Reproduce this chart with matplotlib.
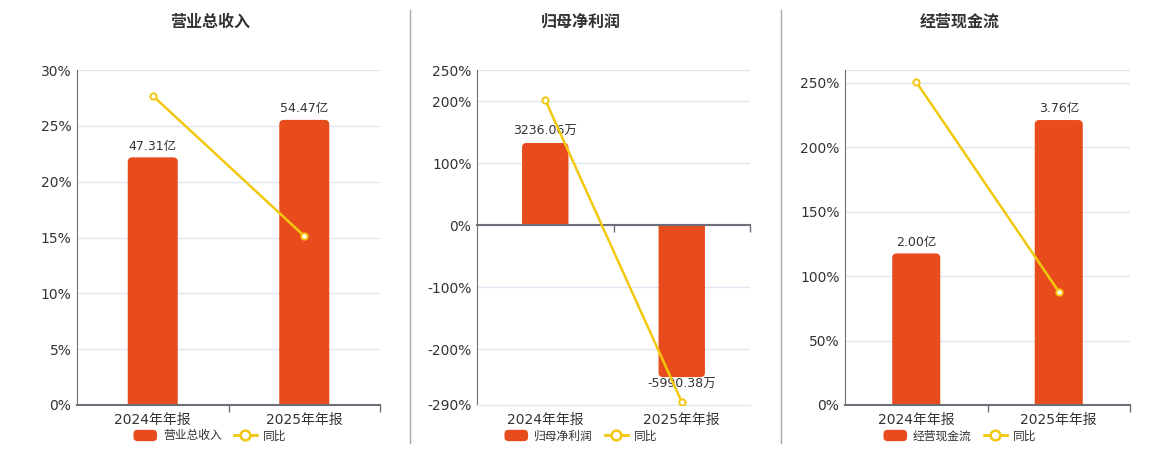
import matplotlib
matplotlib.use("Agg")
import matplotlib.pyplot as plt
from matplotlib.patches import FancyBboxPatch, Rectangle, Patch
from matplotlib.lines import Line2D
from matplotlib.legend_handler import HandlerPatch

plt.rcParams['font.family'] = ['DejaVu Sans', 'Noto Sans CJK SC']

# ---------------- data ----------------
categories = ["2024年年报", "2025年年报"]
titles = ["营业总收入", "归母净利润", "经营现金流"]

revenue_values = [47.31, 54.47]            # 亿
revenue_labels = ["47.31亿", "54.47亿"]
revenue_yoy = [27.7, 15.13]                # %

profit_values = [3236.06, -5990.38]        # 万
profit_labels = ["3236.06万", "-5990.38万"]
profit_yoy = [201.6, -285.1]               # %

cash_values = [2.00, 3.76]                 # 亿
cash_labels = ["2.00亿", "3.76亿"]
cash_yoy = [250.7, 88.0]                   # %

revenue_ticks = [0, 5, 10, 15, 20, 25, 30]
profit_ticks = [-290, -200, -100, 0, 100, 200, 250]
cash_ticks = [0, 50, 100, 150, 200, 250]

# ---------------- style ----------------
BAR = '#E84C1D'
LINE = '#F2C80F'
GRID = '#E0E6F1'
AXIS = '#6E7079'
TXT = '#333333'

W, H = 1160, 450
fig = plt.figure(figsize=(W / 100, H / 100), dpi=100)

panels = [
    dict(pos=(77, 303), vals=revenue_values, labels=revenue_labels, yoy=revenue_yoy,
         ticks=revenue_ticks, top=None, ylim=(0, 30), blim=(0, 64.0), cx=210, bw=0.33),
    dict(pos=(477, 273), vals=profit_values, labels=profit_labels, yoy=profit_yoy,
         ticks=profit_ticks, top=None, ylim=(-290, 250), blim=(-290 * 24.45, 250 * 24.45),
         cx=581, bw=0.34),
    dict(pos=(845, 285), vals=cash_values, labels=cash_labels, yoy=cash_yoy,
         ticks=cash_ticks, top=260, ylim=(0, 260), blim=(0, 4.42), cx=960, bw=0.337),
]

top_px, bot_px = 70, 405


def round_patch(legend, orig_handle, xdescent, ydescent, width, height, fontsize):
    return FancyBboxPatch((-xdescent, -ydescent), width, height,
                          boxstyle="round,pad=0,rounding_size=3")


for i, p in enumerate(panels):
    left, width = p['pos']
    rect = (left / W, (H - bot_px) / H, width / W, (bot_px - top_px) / H)
    ax = fig.add_axes(rect)
    axb = fig.add_axes(rect, sharex=ax)
    axl = fig.add_axes(rect, sharex=ax)
    for a in (axb, axl):
        a.patch.set_visible(False)

    x = list(range(len(categories)))

    # base axes: grid, y labels, category labels
    ax.set_xlim(-0.5, len(categories) - 0.5)
    ax.set_ylim(*p['ylim'])
    ticks = list(p['ticks'])
    labels = [f"{t}%" for t in ticks]
    if p['top'] is not None:
        ticks.append(p['top'])
        labels.append("")
    ax.set_yticks(ticks)
    ax.set_yticklabels(labels)
    ax.set_xticks(x)
    ax.set_xticklabels(categories)
    ax.set_xticks([0.5, 1.5], minor=True)
    ax.grid(axis='y', color=GRID, linewidth=1)
    ax.set_axisbelow(True)
    for s in ('top', 'right'):
        ax.spines[s].set_visible(False)
    ax.spines['bottom'].set_color(GRID)
    ax.spines['left'].set_color(AXIS)
    ax.tick_params(axis='y', length=0, pad=4, labelsize=10, labelcolor=TXT)
    ax.tick_params(axis='x', which='both', length=0, pad=6, labelsize=10, labelcolor=TXT)

    # bars on hidden axis
    axb.set_ylim(*p['blim'])
    axb.axis('off')
    bars = axb.bar(x, p['vals'], width=p['bw'], color=BAR)
    pxx = width / (len(categories))
    pxy = (bot_px - top_px) / (p['blim'][1] - p['blim'][0])
    r_px = 4.5
    rx = r_px / pxx
    ry = r_px / pxy
    for b, v in zip(bars, p['vals']):
        bx, bw_ = b.get_x(), b.get_width()
        b.remove()
        if v >= 0:
            y0, hh = -ry, v + ry
            clip = Rectangle((-1, 0), 10, 1e9, transform=axb.transData)
        else:
            y0, hh = v, -v + ry
            clip = Rectangle((-1, -1e9), 10, 1e9, transform=axb.transData)
        fb = FancyBboxPatch((bx, y0), bw_, hh,
                            boxstyle=f"round,pad=0,rounding_size={rx}",
                            mutation_aspect=ry / rx, facecolor=BAR, edgecolor='none')
        axb.add_patch(fb)
        fb.set_clip_path(clip)
    for xi, v, lab in zip(x, p['vals'], p['labels']):
        if v >= 0:
            axb.annotate(lab, (xi, v), xytext=(0, 3.5), textcoords='offset points',
                         ha='center', va='bottom', fontsize=9, color=TXT)
        else:
            axb.annotate(lab, (xi, v), xytext=(0, -0.5), textcoords='offset points',
                         ha='center', va='top', fontsize=9, color=TXT)

    # line on top axis
    axl.set_ylim(*p['ylim'])
    axl.plot(x, p['yoy'], color=LINE, linewidth=1.8, marker='o', markersize=4.5,
             markerfacecolor='white', markeredgecolor=LINE, markeredgewidth=1.4, zorder=5)
    for s in ('top', 'right', 'left'):
        axl.spines[s].set_visible(False)
    axl.spines['bottom'].set_position(('data', 0))
    axl.spines['bottom'].set_color(AXIS)
    axl.spines['bottom'].set_linewidth(1.5)
    axl.set_yticks([])
    axl.tick_params(axis='x', which='major', length=0, labelbottom=False)
    axl.tick_params(axis='x', which='minor', length=5, width=1, color=AXIS, direction='out')

    # title
    fig.text(p['cx'] / W, 1 - 22 / H, titles[i], ha='center', va='center',
             fontsize=11.5, fontweight='bold', color=TXT, family=['Noto Sans CJK SC'])

    # legend
    handles = [Patch(facecolor=BAR, edgecolor='none', label=titles[i]),
               Line2D([0], [0], color=LINE, linewidth=2, marker='o', markersize=7,
                      markerfacecolor='white', markeredgecolor=LINE, markeredgewidth=1.8,
                      label="同比")]
    fig.legend(handles=handles, loc='center', bbox_to_anchor=(p['cx'] / W, 1 - 436 / H),
               ncol=2, frameon=False, handlelength=2.0, handleheight=1.1,
               handletextpad=0.5, columnspacing=1.0, labelcolor=TXT,
               handler_map={Patch: HandlerPatch(patch_func=round_patch)},
               prop={'family': ['Noto Sans CJK SC'], 'size': 8.5})

# dividers
for xd in (410, 781):
    fig.add_artist(Line2D([xd / W, xd / W], [1 - 443 / H, 1 - 10 / H],
                          color='#AAAAAA', linewidth=1, transform=fig.transFigure))

fig.savefig('out.png', dpi=100, facecolor='white')
